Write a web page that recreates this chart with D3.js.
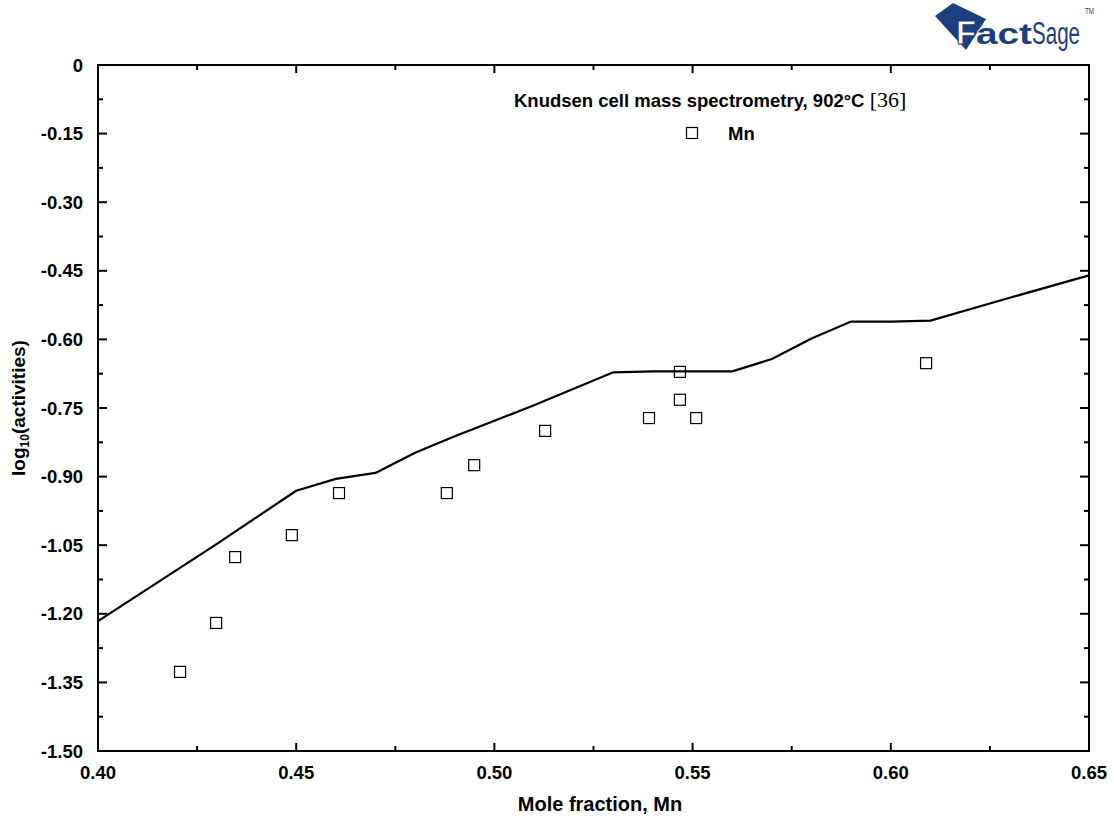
<!DOCTYPE html>
<html>
<head>
<meta charset="utf-8">
<script src="https://cdn.jsdelivr.net/npm/d3@7"></script>
<style>
  html, body { margin: 0; padding: 0; background: #fff; }
  svg { display: block; }
</style>
</head>
<body>
<svg id="chart" width="1114" height="816"></svg>
<script>
// ---- data ----
const xTickValues = [0.40, 0.45, 0.50, 0.55, 0.60, 0.65];
const xTickLabels = ["0.40", "0.45", "0.50", "0.55", "0.60", "0.65"];
const yTickValues = [0, -0.15, -0.30, -0.45, -0.60, -0.75, -0.90, -1.05, -1.20, -1.35, -1.50];
const yTickLabels = ["0", "-0.15", "-0.30", "-0.45", "-0.60", "-0.75", "-0.90", "-1.05", "-1.20", "-1.35", "-1.50"];

// calculated curve (FactSage)
const calcX = [0.400, 0.430, 0.450, 0.460, 0.470, 0.480, 0.490, 0.500, 0.510, 0.520, 0.530, 0.540, 0.560, 0.570, 0.580, 0.590, 0.600, 0.610, 0.630, 0.650];
const calcY = [-1.216, -1.047, -0.931, -0.905, -0.892, -0.848, -0.812, -0.778, -0.744, -0.708, -0.672, -0.670, -0.670, -0.643, -0.598, -0.561, -0.561, -0.559, -0.509, -0.460];

// Knudsen cell mass spectrometry, 902°C [36] — Mn
const mnX = [0.4207, 0.4298, 0.4346, 0.4489, 0.4608, 0.4880, 0.4949, 0.5128, 0.5390, 0.5468, 0.5468, 0.5509, 0.6089];
const mnY = [-1.327, -1.220, -1.076, -1.028, -0.936, -0.936, -0.875, -0.800, -0.772, -0.671, -0.732, -0.772, -0.652];

// ---- drawing ----
const svg = d3.select("#chart");
const x = d3.scaleLinear().domain([0.40, 0.65]).range([98, 1089]);
const y = d3.scaleLinear().domain([-1.5, 0]).range([751, 65]);
const font = "'Liberation Sans', Arial, sans-serif";

const xMinor = d3.range(0, 11).map(i => 0.40 + i * 0.025);
const yMinor = d3.range(0, 21).map(i => -1.5 + i * 0.075);

// ticks (inward on all four sides)
const tickG = svg.append("g").attr("stroke", "#000").attr("stroke-width", 2);
xMinor.forEach((v, i) => {
  const len = (i % 2 === 0) ? 8 : 5;
  tickG.append("line").attr("x1", x(v)).attr("x2", x(v)).attr("y1", 751).attr("y2", 751 - len);
  tickG.append("line").attr("x1", x(v)).attr("x2", x(v)).attr("y1", 65).attr("y2", 65 + len);
});
yMinor.forEach((v, i) => {
  const len = (i % 2 === 0) ? 9 : 5;
  tickG.append("line").attr("y1", y(v)).attr("y2", y(v)).attr("x1", 98).attr("x2", 98 + len);
  tickG.append("line").attr("y1", y(v)).attr("y2", y(v)).attr("x1", 1089).attr("x2", 1089 - len);
});

// frame
svg.append("rect").attr("x", 98).attr("y", 65).attr("width", 1089 - 98).attr("height", 751 - 65)
  .attr("fill", "none").attr("stroke", "#000").attr("stroke-width", 2);

// tick labels
svg.append("g").selectAll("text").data(yTickValues).join("text")
  .attr("x", 83).attr("y", d => y(d)).attr("dy", "0.36em")
  .attr("text-anchor", "end").attr("font-family", font).attr("font-weight", "bold")
  .attr("font-size", 18.5).text((d, i) => yTickLabels[i]);
svg.append("g").selectAll("text").data(xTickValues).join("text")
  .attr("x", d => x(d)).attr("y", 779)
  .attr("text-anchor", "middle").attr("font-family", font).attr("font-weight", "bold")
  .attr("font-size", 18.5).text((d, i) => xTickLabels[i]);

// axis titles
svg.append("text").attr("x", 600).attr("y", 811).attr("text-anchor", "middle")
  .attr("font-family", font).attr("font-weight", "bold").attr("font-size", 20)
  .text("Mole fraction, Mn");
const yt = svg.append("text").attr("transform", "translate(25,408) rotate(-90)")
  .attr("text-anchor", "middle").attr("font-family", font).attr("font-weight", "bold").attr("font-size", 19);
yt.append("tspan").text("log");
yt.append("tspan").attr("font-size", 12).attr("dy", 4).text("10");
yt.append("tspan").attr("dy", -4).text("(activities)");

// calculated line
const pts = calcX.map((v, i) => [v, calcY[i]]);
svg.append("path").datum(pts)
  .attr("d", d3.line().x(d => x(d[0])).y(d => y(d[1])))
  .attr("fill", "none").attr("stroke", "#000").attr("stroke-width", 2.2).attr("stroke-linejoin", "round");

// data points
const ms = 11;
svg.append("g").selectAll("rect").data(mnX.map((v, i) => [v, mnY[i]])).join("rect")
  .attr("x", d => x(d[0]) - ms / 2).attr("y", d => y(d[1]) - ms / 2)
  .attr("width", ms).attr("height", ms)
  .attr("fill", "none").attr("stroke", "#000").attr("stroke-width", 1.2);

// legend
const lt = svg.append("text").attr("x", 514).attr("y", 107)
  .attr("font-family", font).attr("font-weight", "bold").attr("font-size", 18.5);
lt.append("tspan").text("Knudsen cell mass spectrometry, 902°C ");
lt.append("tspan").attr("font-family", "'Liberation Serif', 'Times New Roman', serif")
  .attr("font-weight", "normal").attr("font-size", 22).text("[36]");
svg.append("rect").attr("x", 692 - ms / 2).attr("y", 133 - ms / 2).attr("width", ms).attr("height", ms)
  .attr("fill", "none").attr("stroke", "#000").attr("stroke-width", 1.2);
svg.append("text").attr("x", 728).attr("y", 140)
  .attr("font-family", font).attr("font-weight", "bold").attr("font-size", 18.5).text("Mn");

// FactSage logo
const navy = "#1c3f7e";
const logo = svg.append("g");
logo.append("polygon").attr("points", "935,16 953,3 986,19 966,50").attr("fill", navy);
logo.append("text").attr("x", 956).attr("y", 44)
  .attr("font-family", font).attr("font-weight", "bold").attr("font-size", 33)
  .attr("fill", "#fff").attr("stroke", navy).attr("stroke-width", 1)
  .attr("textLength", 20).attr("lengthAdjust", "spacingAndGlyphs").text("F");
logo.append("text").attr("x", 976).attr("y", 44)
  .attr("font-family", font).attr("font-weight", "bold").attr("font-size", 30)
  .attr("fill", navy).attr("stroke", "#fff").attr("stroke-width", 1.5).attr("paint-order", "stroke")
  .attr("textLength", 56).attr("lengthAdjust", "spacingAndGlyphs").text("act");
logo.append("text").attr("x", 1032).attr("y", 44)
  .attr("font-family", font).attr("font-size", 31).attr("fill", navy)
  .attr("textLength", 48).attr("lengthAdjust", "spacingAndGlyphs").text("Sage");
logo.append("text").attr("x", 1085).attr("y", 14)
  .attr("font-family", font).attr("font-size", 9).attr("fill", navy)
  .attr("textLength", 9).attr("lengthAdjust", "spacingAndGlyphs").text("TM");
</script>
</body>
</html>
